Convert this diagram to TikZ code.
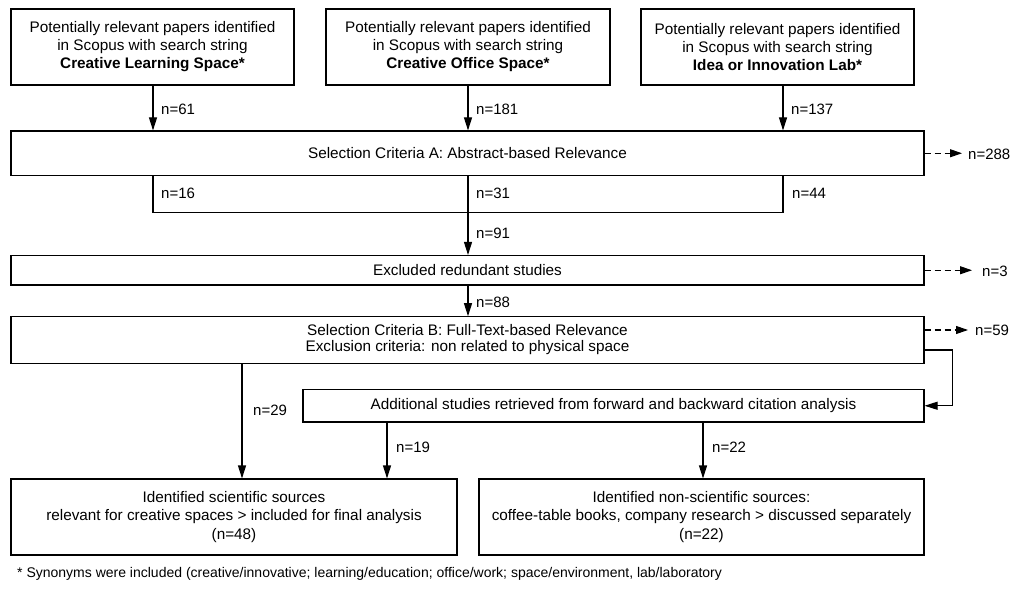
\documentclass[tikz,border=0pt]{standalone}
\usepackage{fontspec}
\setmainfont{Liberation Sans}
\usetikzlibrary{arrows.meta,calc}
\begin{document}
\begin{tikzpicture}[x=1pt,y=-1pt,
  box/.style={draw,line width=1.1pt,align=center,inner sep=0pt,
    font=\fontsize{15.3}{18}\selectfont},
  lbl/.style={anchor=west,inner sep=0pt,font=\fontsize{15}{18}\selectfont},
  arr/.style={line width=1.1pt,-{Triangle[length=13pt,width=8pt]}},
  darr/.style={line width=1.1pt,dash pattern=on 6pt off 4pt,-{Triangle[length=12pt,width=8pt]}},
  ln/.style={line width=1.1pt}]
\useasboundingbox (0,0) rectangle (1016,591);

% top boxes
\node[box,minimum width=283pt,minimum height=76pt] (t1) at (152.5,47)
  {Potentially relevant papers identified\\in Scopus with search string\\\textbf{Creative Learning Space*}};
\node[box,minimum width=284pt,minimum height=76pt] (t2) at (468,47)
  {Potentially relevant papers identified\\in Scopus with search string\\\textbf{Creative Office Space*}};
\node[box,minimum width=273pt,minimum height=76pt] (t3) at (777.5,47)
  {Potentially relevant papers identified\\in Scopus with search string\\\textbf{Idea or Innovation Lab*}};

% stage boxes
\node[box,minimum width=913pt,minimum height=44.5pt] (A) at (467.5,153.25)
  {Selection Criteria A: Abstract-based Relevance};
\node[box,minimum width=913pt,minimum height=29.5pt] (E) at (467.5,270.25)
  {Excluded redundant studies};
\node[box,minimum width=913pt,minimum height=46.5pt,
  font=\fontsize{15.3}{16}\selectfont] (B) at (467.5,340)
  {Selection Criteria B: Full-Text-based Relevance\\Exclusion criteria: non related to physical space};
\node[box,minimum width=621pt,minimum height=32.5pt] (C) at (613.5,405.75)
  {Additional studies retrieved from forward and backward citation analysis};
\node[box,minimum width=446pt,minimum height=76pt,font=\fontsize{15.3}{18.5}\selectfont] (L) at (234,517)
  {Identified scientific sources\\relevant for creative spaces > included for final analysis\\(n=48)};
\node[box,minimum width=445pt,minimum height=76pt,font=\fontsize{15.3}{18.5}\selectfont] (R) at (701.5,517)
  {Identified non-scientific sources:\\coffee-table books, company research > discussed separately\\(n=22)};

% top arrows
\draw[arr] ([xshift=0.5pt]t1.south) -- ([xshift=0.5pt]t1.south |- A.north);
\draw[arr] (t2.south) -- (t2.south |- A.north);
\draw[arr] ([xshift=5.5pt]t3.south) -- ([xshift=5.5pt]t3.south |- A.north);
\node[lbl] (l61) at (161,109) {n=61};
\node[lbl] (l181) at (476,109) {n=181};
\node[lbl] (l137) at (791,109) {n=137};

% bracket under A
\coordinate (k1) at (153,212.5);
\coordinate (k2) at (468,212.5);
\coordinate (k3) at (783,212.5);
\draw[ln] (k1 |- A.south) -- (k1) -- (k3) -- (k3 |- A.south);
\draw[ln] (k2 |- A.south) -- (k2);
\node[lbl] (l16) at (161,193) {n=16};
\node[lbl] (l31) at (476,193) {n=31};
\node[lbl] (l44) at (792,193) {n=44};

\draw[arr] (k2) -- (k2 |- E.north);
\node[lbl] (l91) at (476,233) {n=91};
\draw[arr] (k2 |- E.south) -- (k2 |- B.north);
\node[lbl] (l88) at (476,302) {n=88};

% dashed exclusions
\coordinate (d1) at (962,153.25);
\coordinate (d2) at (972,270.25);
\coordinate (d3) at (968,330);
\draw[darr] (A.east) -- (d1);
\draw[darr] (E.east) -- (d2);
\draw[darr] ([yshift=10pt]B.east) -- (d3);
\node[lbl] (l288) at (968,154) {n=288};
\node[lbl] (l3) at (982,271) {n=3};
\node[lbl] (l59) at (975,330.5) {n=59};

% elbow from B to C
\draw[arr] ([yshift=-10pt]B.east) -- ++(28,0) |- (C.east);

% lower arrows
\coordinate (m29) at (242,0);
\coordinate (m19) at (387,0);
\coordinate (m22) at (703,0);
\draw[arr] (m29 |- B.south) -- (m29 |- L.north);
\draw[arr] (m19 |- C.south) -- (m19 |- L.north);
\draw[arr] (m22 |- C.south) -- (m22 |- R.north);
\node[lbl] (l29) at (253,410) {n=29};
\node[lbl] (l19) at (396,447) {n=19};
\node[lbl] (l22) at (712,447) {n=22};

% footnote
\node[anchor=west,inner sep=0pt,font=\fontsize{14}{16}\selectfont] (fn) at (17,574)
  {* Synonyms were included (creative/innovative; learning/education; office/work; space/environment, lab/laboratory};
\end{tikzpicture}
\end{document}
